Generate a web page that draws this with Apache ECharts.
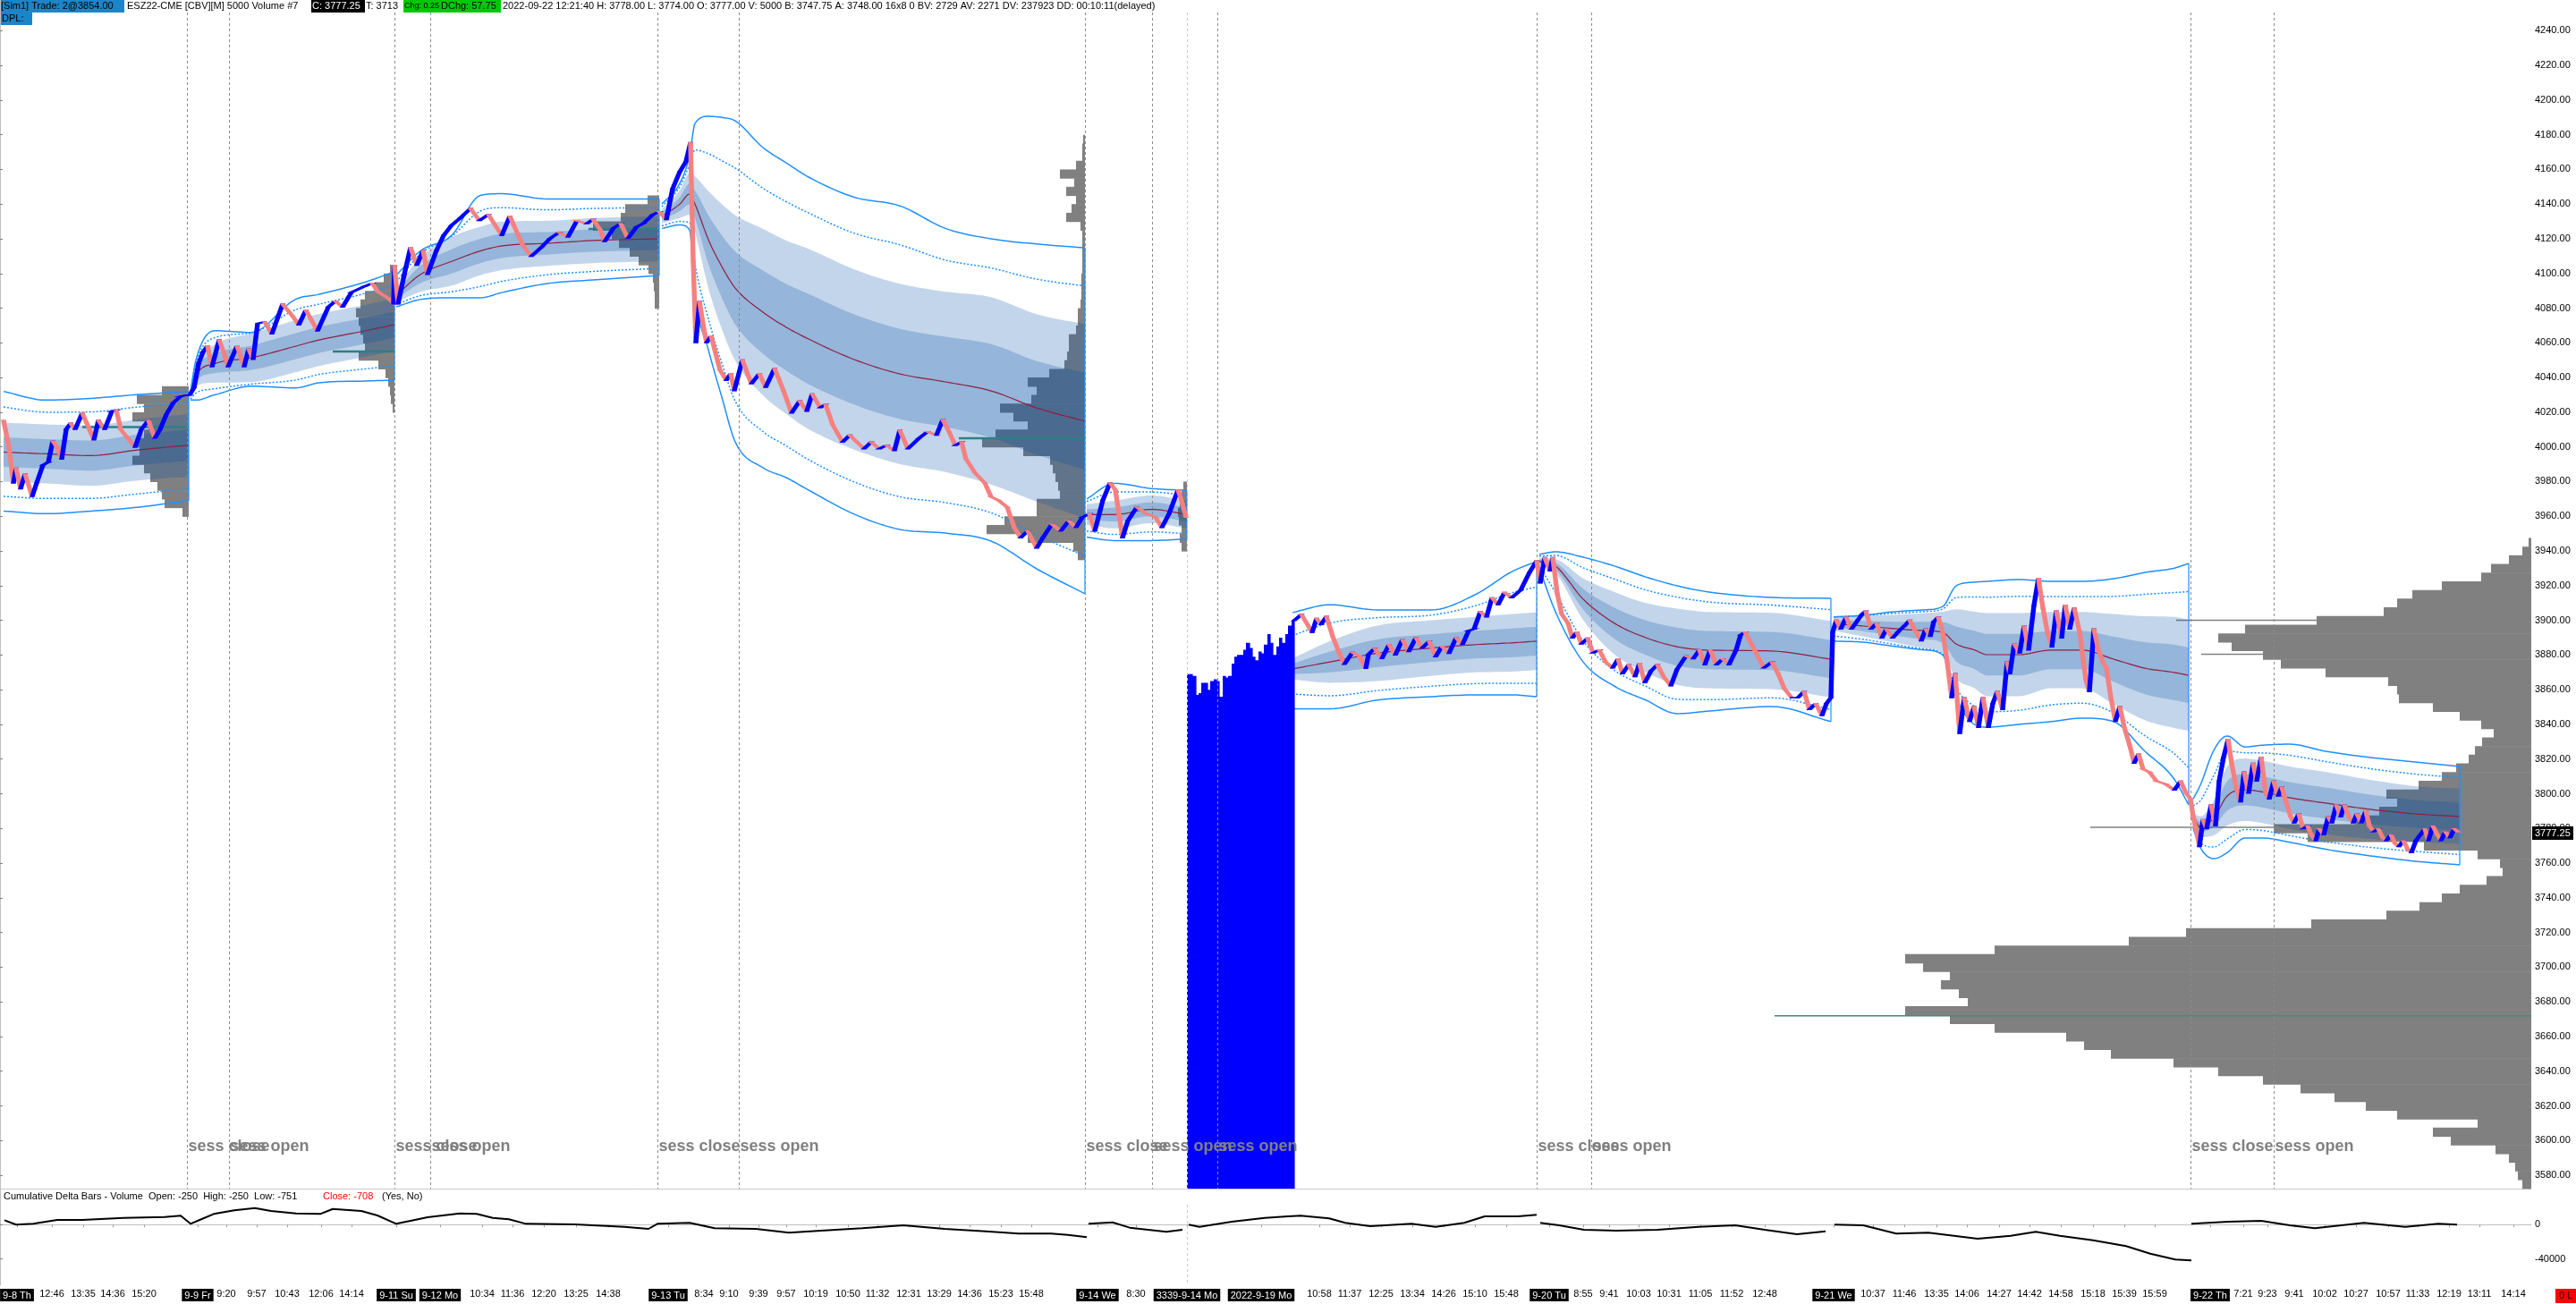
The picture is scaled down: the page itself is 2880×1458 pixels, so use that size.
<!DOCTYPE html>
<html>
<head>
<meta charset="utf-8">
<script src="https://cdn.jsdelivr.net/npm/echarts@6/dist/echarts.min.js"></script>
<style>
html,body{margin:0;padding:0;background:#fff}
#chart{width:2880px;height:1458px}
</style>
</head>
<body>
<div id="chart"></div>
<script>
// ---- price axis / panels
const Y_MIN = 3572.3, Y_MAX = 4257.7;
const yTicks = [3580,3600,3620,3640,3660,3680,3700,3720,3740,3760,3780,3800,3820,3840,3860,3880,3900,3920,3940,3960,3980,4000,4020,4040,4060,4080,4100,4120,4140,4160,4180,4200,4220,4240];
const cdTicks = [0, -40000];
const lastPrice = 3777.25;

// ---- time axis labels (bar position, text)
const xLabelPos = [19,58,93,126,161,221,253,287,321,359,393,443,492,539,573,608,644,680,747,787,815,848,879,912,948,981,1016,1050,1084,1119,1153,1227,1270,1327,1410,1475,1509,1544,1579,1614,1649,1684,1732,1770,1799,1832,1866,1901,1936,1973,2050,2094,2129,2165,2199,2235,2269,2304,2340,2375,2409,2471,2508,2535,2565,2599,2634,2670,2703,2738,2772,2810];
const xLabelText = ['9-8 Th','12:46','13:35','14:36','15:20','9-9 Fr','9:20','9:57','10:43','12:06','14:14','9-11 Su','9-12 Mo','10:34','11:36','12:20','13:25','14:38','9-13 Tu','8:34','9:10','9:39','9:57','10:19','10:50','11:32','12:31','13:29','14:36','15:23','15:48','9-14 We','8:30','3339-9-14 Mo','2022-9-19 Mo','10:58','11:37','12:25','13:34','14:26','15:10','15:48','9-20 Tu','8:55','9:41','10:03','10:31','11:05','11:52','12:48','9-21 We','10:37','11:46','13:35','14:06','14:27','14:42','14:58','15:18','15:39','15:59','9-22 Th','7:21','9:23','9:41','10:02','10:27','10:57','11:33','12:19','13:11','14:14'];

// ---- session boundaries
const sessClose = [209, 441, 735, 1213, 1718, 2449];
const sessOpen = [256, 481, 826, 1288, 1361, 1779, 2542];
const sessMark = [1327];

// ---- price path per session [bar, price]
const price1 = [[4,4015.3],[10,3999.8],[15,3979.2],[18,3987.8],[23,3975.8],[28,3984.4],[36,3971.5],[41,3979.2],[48,3989.5],[54,3991.2],[59,4003.3],[64,3999.8],[69,3993],[74,4010.1],[79,4013.6],[84,4010.1],[92,4019.6],[97,4013.6],[105,4004.1],[110,4015.3],[117,4010.1],[125,4020.5],[130,4021.3],[135,4010.1],[143,4005],[151,3999.8],[158,4010.1],[166,4015.3],[173,4005],[179,4010.1],[186,4018.7],[194,4025.6],[202,4029.1],[209,4029.9]];
const price2 = [[212,4029.9],[217,4034.2],[222,4048],[227,4054.8],[232,4058.3],[237,4046.2],[245,4061.7],[250,4054.8],[255,4046.2],[265,4058.3],[273,4046.2],[278,4056.6],[283,4050.5],[288,4071.2],[296,4072],[304,4065.2],[316,4082.4],[327,4075.5],[334,4070.3],[342,4078.9],[355,4066.9],[367,4080.6],[375,4084.1],[383,4080.6],[393,4089.2],[408,4092.7],[416,4094.4],[423,4089.2],[434,4085.8],[440,4082.4]];
const price3 = [[441,4104.7],[445,4082.4],[452,4099.5],[459,4115],[466,4104.7],[473,4113.3],[478,4099.5],[488,4113.3],[496,4121.9],[505,4127.9],[515,4132.2],[526,4137.4],[536,4130.5],[546,4133.9],[561,4121.9],[570,4133.1],[584,4116.7],[594,4109.9],[605,4115],[615,4120.2],[625,4123.6],[635,4121],[645,4130.5],[656,4128.8],[663,4131.3],[671,4125.3],[676,4118.4],[686,4126.2],[694,4128.8],[702,4120.2],[712,4127],[719,4128.8],[730,4133.9],[737,4135.6]];
const price4 = [[745,4131.1],[752,4148.9],[760,4158.7],[767,4164.7],[772,4175.5],[775,4107.4],[778,4060.1],[782,4083.8],[787,4068],[790,4060.1],[795,4064],[805,4044.3],[812,4038.4],[817,4042.3],[821,4032.4],[830,4050.2],[840,4036.4],[849,4042.3],[856,4034.4],[866,4045.3],[876,4032.4],[885,4019.6],[894,4026.5],[902,4020.6],[908,4030.5],[917,4022.6],[923,4024.5],[931,4012.7],[942,4002.8],[950,4006.8],[958,4002.8],[966,3998.9],[974,4002.8],[983,3998.9],[991,4000.9],[1000,3997.9],[1006,4009.7],[1015,3998.9],[1027,4004.8],[1037,4008.8],[1047,4006.8],[1054,4015.7],[1061,4008.8],[1068,4000.9],[1075,4002.8],[1080,3993],[1090,3985.1],[1101,3979.2],[1108,3971.3],[1116,3969.3],[1126,3965.3],[1134,3953.5],[1141,3947.6],[1149,3951.5],[1159,3941.7],[1166,3947.6],[1176,3955.5],[1186,3951.5],[1195,3957.4],[1203,3953.5],[1210,3959.4]];
const price5 = [[1218,3961.4],[1224,3951.5],[1233,3969.3],[1241,3979.2],[1247,3975.2],[1255,3947.6],[1261,3957.4],[1271,3965.3],[1282,3961.4],[1292,3959.4],[1299,3953.5],[1307,3961.4],[1317,3975.2],[1322,3967.3],[1326,3959.4]];
const price6 = [[1447,3899.9],[1455,3903.4],[1467,3893],[1472,3901.1],[1477,3897.6],[1483,3902.2],[1490,3890.7],[1497,3881.5],[1503,3874.6],[1512,3881.5],[1520,3879.2],[1527,3872.3],[1530,3880.4],[1537,3883.8],[1545,3878],[1553,3886],[1560,3880],[1568,3889],[1575,3882],[1583,3890],[1590,3884],[1598,3888],[1605,3879],[1612,3885],[1620,3881],[1628,3890],[1635,3886],[1642,3894],[1648,3895],[1655,3905],[1662,3902],[1668,3913],[1675,3909],[1682,3916],[1690,3913],[1700,3917.3],[1710,3927.6],[1718,3934.4]];
const price7 = [[1722,3921.6],[1727,3936.2],[1733,3928.5],[1736,3936.2],[1741,3915.6],[1746,3903.6],[1753,3898.4],[1758,3889.8],[1763,3893.3],[1768,3886.4],[1775,3889.8],[1781,3881.2],[1788,3882.9],[1795,3876],[1803,3872.6],[1809,3877.8],[1814,3869.2],[1821,3874.4],[1828,3867.5],[1833,3875.2],[1839,3864],[1846,3870.9],[1853,3874.4],[1860,3867.5],[1868,3862.3],[1875,3871.8],[1885,3879.5],[1893,3877.8],[1900,3882.9],[1906,3874.4],[1912,3882.9],[1919,3874.4],[1926,3877.8],[1933,3874.4],[1941,3882.9],[1946,3891.5],[1951,3893.3],[1958,3886.4],[1965,3879.5],[1972,3872.6],[1981,3876],[1988,3869.2],[1995,3860.6],[2003,3855.4],[2010,3855.4],[2017,3858.9],[2023,3848.6],[2030,3852],[2037,3845.1],[2042,3852],[2047,3855.4]];
const price8 = [[2049,3893.3],[2053,3900.1],[2058,3895],[2064,3901.9],[2070,3895],[2077,3900.1],[2082,3903.6],[2086,3905.3],[2092,3895],[2098,3898.4],[2104,3889.8],[2109,3895],[2116,3889.8],[2122,3893.3],[2129,3896.7],[2135,3900.1],[2142,3893.3],[2148,3888.1],[2153,3895],[2158,3890.7],[2162,3899.3],[2167,3901.9],[2172,3893.3],[2177,3876],[2182,3855.4],[2186,3869.2],[2191,3834.8],[2196,3855.4],[2202,3841.7],[2207,3850.3],[2212,3838.3],[2217,3855.4],[2223,3838.3],[2228,3852],[2233,3858.9],[2239,3848.6],[2244,3876],[2247,3869.2],[2252,3886.4],[2258,3881.2],[2263,3896.7],[2268,3882.9],[2274,3908.7],[2279,3924.2],[2284,3907],[2289,3893.3],[2294,3884.7],[2299,3905.3],[2305,3889.8],[2309,3908.7],[2314,3895],[2319,3907],[2325,3893.3],[2332,3865.7],[2336,3858.9],[2341,3895],[2346,3882.9],[2351,3876],[2355,3872.6],[2360,3855.4],[2365,3841.7],[2370,3850.3],[2375,3838.3],[2381,3828],[2386,3817.6],[2391,3822.8],[2396,3814.2],[2403,3812.5],[2411,3807.3],[2421,3805.6],[2431,3802.2],[2438,3807.3],[2444,3800.4],[2449,3797]];
const price9 = [[2452,3786.7],[2456,3778.1],[2459,3769.5],[2463,3785],[2467,3779.8],[2472,3793.6],[2477,3781.5],[2481,3807.3],[2486,3821],[2491,3831.4],[2495,3817.6],[2500,3803.9],[2505,3795.3],[2509,3812.5],[2514,3800.4],[2519,3817.6],[2523,3807.3],[2528,3821],[2533,3800.4],[2537,3797],[2542,3807.3],[2547,3798.7],[2551,3803.9],[2556,3795.3],[2561,3786.7],[2565,3783.2],[2570,3788.4],[2575,3779.8],[2580,3781.5],[2584,3776.4],[2589,3772.9],[2593,3779.8],[2598,3776.4],[2603,3786.7],[2607,3783.2],[2612,3793.6],[2617,3786.7],[2621,3793.6],[2626,3786.7],[2631,3783.2],[2635,3788.4],[2640,3783.2],[2645,3790.1],[2649,3781.5],[2654,3778.1],[2659,3779.8],[2664,3774.6],[2668,3772.9],[2673,3776.4],[2678,3771.2],[2682,3769.5],[2687,3772.9],[2692,3767.8],[2696,3766.1],[2701,3772.9],[2706,3776.4],[2711,3779.8],[2715,3772.9],[2720,3781.5],[2725,3776.4],[2729,3772.9],[2734,3778.1],[2739,3774.6],[2744,3779.8],[2748,3778.1]];

// bad-tick bars of 9-19 (high, low printed at 3339)
const glitchX = [1327,1330,1333,1337,1340,1343,1347,1350,1353,1357,1360,1363,1367,1370,1373,1377,1380,1383,1387,1390,1393,1397,1400,1403,1407,1410,1413,1417,1420,1423,1427,1430,1433,1437,1440,1444];
const glitchHigh = [3869,3869,3868,3857,3858,3864,3864,3860,3865,3866,3865,3856,3868,3867,3868,3875,3879,3880,3880,3883,3887,3884,3879,3877,3882,3881,3886,3892,3887,3880,3885,3890,3887,3892,3897,3900];
const glitchLow = 3339;

// ---- session bands: knots, center, std dev, outer upper, outer lower
const bandX = [
  [4,51,102,150,211],
  [213,219,240,281,330,357,408,441],
  [443,470,505,537,561,612,663,737],
  [740,760,771,777,792,807,822,853,879,904,955,1006,1057,1108,1159,1213],
  [1215,1246,1287,1327],
  [1445,1487,1540,1600,1650,1690,1718],
  [1721,1739,1770,1805,1840,1875,1911,1981,2047],
  [2050,2083,2118,2150,2172,2187,2207,2222,2257,2293,2328,2363,2398,2430,2447],
  [2452,2460,2475,2490,2510,2530,2560,2600,2650,2700,2750]
];
const bandMid = [
  [3997,3996,3995,3998,4001],
  [4030,4041,4048,4051.4,4058,4061.7,4066.9,4070.5],
  [4087.5,4099.4,4107,4113,4115.9,4117.4,4119,4120],
  [4133,4140,4145.8,4140,4119.5,4104,4091.6,4077.7,4069,4062.2,4050.4,4042.1,4037.5,4032.3,4022.5,4014.8],
  [3961,3961,3964,3961],
  [3872,3876,3881,3884,3886,3887,3888],
  [3934,3931.3,3912.2,3898.3,3890,3884.8,3882.8,3882.3,3877.6],
  [3898,3896.7,3895.2,3894.1,3893,3886.4,3883,3880.2,3880.2,3882.8,3882.8,3877.6,3872.4,3870,3868.3],
  [3787,3781,3786,3798.7,3802.3,3801,3797.7,3794.6,3791,3788.4,3786.9]
];
const bandSd = [
  [8.5,8.5,8.7,8.8,9],
  [1,3,5.5,7,7.5,7.5,7.5,7.5],
  [2,5,7,7,7,6.5,6.5,6.5],
  [2,4,6,8,14,18,21,24,25,26,26,26,26,27,27,28],
  [3,4,4,4],
  [3,6,8,8,8,8.3,8.3],
  [1,2,6,9,10,11,11,11,11],
  [2,3,4,5,6,10,11,12,12,11,11,13,15,16,16],
  [1,3,5,8.5,9,9,9,9,8.5,8,8]
];
const bandUp = [
  [4032,4027,4028,4030,4032],
  [4032,4050,4067,4066,4085,4088,4095,4101],
  [4099,4113,4122,4145,4146,4143,4143,4143],
  [4140,4152,4168,4186.5,4190.6,4190,4188,4172.6,4163.8,4155.6,4144,4139,4126,4120,4117,4114.8],
  [3970,3979,3976,3975],
  [3904.5,3909,3906,3906,3915,3928,3934],
  [3938,3939.5,3936.4,3931.3,3925,3919.9,3916.3,3913.2,3912.7],
  [3901.9,3902.9,3905,3906,3908,3919.9,3922,3922.5,3923.5,3922.5,3922.5,3924,3927.6,3930,3932.8],
  [3797,3805,3825,3833.3,3827,3828,3828.6,3824.5,3820.9,3818.3,3815.7]
];
const bandDn = [
  [3963,3961.5,3963,3965,3969],
  [4027,4027,4030,4035,4034,4037,4038,4038.5],
  [4080.8,4085,4086,4086,4089,4094.2,4096.3,4098.9],
  [4126,4128,4125,4087.5,4056,4028.7,4002.9,3988,3982.3,3975.1,3961.2,3952.4,3950.3,3945.7,3929.7,3915.3],
  [3948,3946,3946,3947],
  [3849,3849,3854,3856,3857,3857,3856],
  [3930,3905,3876,3862,3854,3846.2,3847.7,3850.3,3841.6],
  [3888,3887.4,3885,3883,3880,3855.5,3840.1,3838.4,3840,3841.6,3843.6,3841.6,3824.5,3809,3793.6],
  [3780,3769,3762.6,3766,3774.5,3774.5,3772,3768,3764.2,3761.1,3759]
];

// ---- volume profiles (anchored at right edge, bins of 5 points)
const profAnchor = [211, 441, 737, 1213, 1327, 2830];
const profBase = [3962.5, 4022.5, 4082.5, 3937.5, 3942.5, 3575];
const profStep = 5;
const profLens = [
  [7,27,30,35,43,50,63,55,58,50,45,63,50,58,30],
  [2,4,5,7,10,18,40,33,35,38,40,43,38,33,22,12,5],
  [5,5,6,7,12,23,33,45,53,74,43,38,13],
  [8,13,64,110,90,54,54,28,30,33,36,39,69,115,100,64,80,95,60,54,64,40,23,20,18,18,10,8,8,5,4,4,4,3,3,3,3,3,5,21,15,10,21,12,28,10,3,3,2],
  [6,8,6,9,10,8,6,4],
  [10,15,18,25,40,90,110,60,150,185,220,258,300,350,400,470,500,520,600,650,700,630,640,660,650,680,700,600,450,386,246,162,125,100,80,50,32,35,60,120,250,288,197,170,150,162,126,100,84,70,63,55,42,56,80,110,148,150,160,230,280,300,335,350,320,240,165,150,133,100,56,45,25,10,3]
];
const spikePrice = [3780.6, 3900, 3880.4];
const spikeLen = [493, 397, 369];
const pocAnchor = [211, 441, 737, 1213, 2830];
const pocPrice = [4011.4, 4055, 4125.7, 4005, 3672];
const pocLen = [119, 69, 79, 141, 846];

// ---- cumulative delta per session
const cdA = [[5,5200],[18,0],[37,1000],[64,5500],[92,5500],[138,7900],[184,9000],[202,10400],[213,1000],[225,6300],[239,12500],[262,16700],[285,19400],[303,15900],[331,13100],[358,12500],[372,18300],[404,15900],[422,10700],[443,1000],[459,4500],[478,8600],[514,13100],[533,12500],[551,7900],[569,6300],[588,1000],[643,300],[698,-2500],[725,-4900],[735,1000],[771,2100],[799,-4200],[845,-4900],[882,-9400],[918,-7000],[964,-4200],[1010,-700],[1056,-4900],[1102,-7700],[1139,-10400],[1175,-10400],[1194,-11900],[1215,-14600]];
const cdB = [[1217,1000],[1244,2700],[1263,-3500],[1304,-8300],[1322,-5900]];
const cdC = [[1329,0],[1341,-2500],[1377,3400],[1414,7900],[1440,9700],[1454,10400],[1486,7300],[1504,2100],[1532,-1800],[1578,1000],[1605,-2500],[1637,2100],[1660,9700],[1697,9700],[1718,11500]];
const cdD = [[1722,2100],[1743,-700],[1771,-5900],[1807,-7000],[1853,-5900],[1899,-2500],[1940,-700],[1973,-5900],[2009,-11100],[2041,-7700]];
const cdE = [[2051,0],[2083,-700],[2120,-10400],[2156,-9400],[2211,-16400],[2248,-12900],[2276,-8300],[2303,-12900],[2340,-18100],[2377,-25000],[2404,-33800],[2432,-40600],[2450,-41700]];
const cdF = [[2450,1000],[2491,3400],[2528,4500],[2560,-700],[2588,-4200],[2643,2100],[2689,-2500],[2726,1000],[2747,0]];

// ------------------------------------------------------------------
const FONT = "'Liberation Sans', Arial, sans-serif";
const F11 = "11px " + FONT;
const BLUE = '#1e8fff';
const BAND_FILL = 'rgba(0,76,166,0.235)';
const chart = echarts.init(document.getElementById('chart'));

// monotone cubic curve through pixel knots (drawing only)
function curve(pts, steps) {
  const n = pts.length;
  if (n < 3) return pts.slice();
  const dx = [], m = [];
  for (let i = 0; i < n - 1; i++) {
    dx[i] = pts[i + 1][0] - pts[i][0];
    m[i] = dx[i] ? (pts[i + 1][1] - pts[i][1]) / dx[i] : 0;
  }
  const t = [m[0]];
  for (let i = 1; i < n - 1; i++) t[i] = m[i - 1] * m[i] <= 0 ? 0 : (m[i - 1] + m[i]) / 2;
  t[n - 1] = m[n - 2];
  for (let i = 0; i < n - 1; i++) {
    if (m[i] === 0) { t[i] = 0; t[i + 1] = 0; continue; }
    const a = t[i] / m[i], b = t[i + 1] / m[i], s = a * a + b * b;
    if (s > 9) { const k = 3 / Math.sqrt(s); t[i] = k * a * m[i]; t[i + 1] = k * b * m[i]; }
  }
  const out = [];
  for (let i = 0; i < n - 1; i++) {
    const h = dx[i];
    for (let s = 0; s < steps; s++) {
      const u = s / steps, u2 = u * u, u3 = u2 * u;
      out.push([pts[i][0] + u * h,
        (2 * u3 - 3 * u2 + 1) * pts[i][1] + (u3 - 2 * u2 + u) * h * t[i] + (-2 * u3 + 3 * u2) * pts[i + 1][1] + (u3 - u2) * h * t[i + 1]]);
    }
  }
  out.push(pts[n - 1]);
  return out;
}

const series = [];

// profiles
const profData = [];
profAnchor.forEach((a, i) => profLens[i].forEach((len, j) => profData.push([a, profBase[i] + j * profStep, len])));
series.push({
  type: 'custom', xAxisIndex: 0, yAxisIndex: 0, z: 1, silent: true, data: profData,
  renderItem: (params, api) => {
    const a = api.value(0), p = api.value(1), len = api.value(2);
    const p1 = api.coord([a - len, p + profStep / 2]);
    const p2 = api.coord([a, p - profStep / 2]);
    return {type: 'rect', shape: {x: p1[0], y: p1[1], width: p2[0] - p1[0], height: p2[1] - p1[1] + 0.6}, style: {fill: '#808080'}};
  }
});
series.push({
  type: 'custom', xAxisIndex: 0, yAxisIndex: 0, z: 1, silent: true,
  data: spikePrice.map((p, i) => [2830, p, spikeLen[i]]),
  renderItem: (params, api) => {
    const a = api.coord([api.value(0) - api.value(2), api.value(1)]);
    const b = api.coord([api.value(0), api.value(1)]);
    return {type: 'line', shape: {x1: a[0], y1: a[1], x2: b[0], y2: b[1]}, style: {stroke: '#808080', lineWidth: 1.5}};
  }
});

// bands: filled ±1sd / ±2sd, center, dotted and solid envelopes
series.push({
  type: 'custom', xAxisIndex: 0, yAxisIndex: 0, z: 2, silent: true,
  data: bandX.map((xs, i) => [xs[0], bandMid[i][0], i]),
  renderItem: (params, api) => {
    const i = api.value(2);
    const xs = bandX[i], mid = bandMid[i], sd = bandSd[i], up = bandUp[i], dn = bandDn[i];
    const line = f => curve(xs.map((x, k) => api.coord([x, f(k)])), 10);
    const hi2 = line(k => mid[k] + 2 * sd[k]), lo2 = line(k => mid[k] - 2 * sd[k]);
    const hi1 = line(k => mid[k] + sd[k]), lo1 = line(k => mid[k] - sd[k]);
    const upL = line(k => up[k]), dnL = line(k => dn[k]);
    const upD = line(k => (mid[k] + 2 * sd[k] + up[k]) / 2), dnD = line(k => (mid[k] - 2 * sd[k] + dn[k]) / 2);
    const ctr = line(k => mid[k]);
    const e = xs.length - 1;
    const endUp = api.coord([xs[e], up[e]]), endDn = api.coord([xs[e], dn[e]]);
    return {type: 'group', children: [
      {type: 'polygon', shape: {points: hi2.concat(lo2.slice().reverse())}, style: {fill: BAND_FILL}},
      {type: 'polygon', shape: {points: hi1.concat(lo1.slice().reverse())}, style: {fill: BAND_FILL}},
      {type: 'polyline', shape: {points: ctr}, style: {stroke: '#8e1f42', lineWidth: 1.2, fill: null}},
      {type: 'polyline', shape: {points: upD}, style: {stroke: BLUE, lineWidth: 1.5, lineDash: [2, 2], fill: null}},
      {type: 'polyline', shape: {points: dnD}, style: {stroke: BLUE, lineWidth: 1.5, lineDash: [2, 2], fill: null}},
      {type: 'polyline', shape: {points: upL}, style: {stroke: BLUE, lineWidth: 1.5, fill: null}},
      {type: 'polyline', shape: {points: dnL}, style: {stroke: BLUE, lineWidth: 1.5, fill: null}},
      {type: 'line', shape: {x1: endUp[0], y1: endUp[1], x2: endDn[0], y2: endDn[1]}, style: {stroke: BLUE, lineWidth: 1.2}}
    ]};
  }
});

// POC lines
series.push({
  type: 'custom', xAxisIndex: 0, yAxisIndex: 0, z: 3, silent: true,
  data: pocPrice.map((p, i) => [pocAnchor[i], p, pocLen[i]]),
  renderItem: (params, api) => {
    const a = api.coord([api.value(0) - api.value(2), api.value(1)]);
    const b = api.coord([api.value(0), api.value(1)]);
    const big = api.value(0) > 2800;
    return {type: 'line', shape: {x1: a[0], y1: a[1], x2: b[0], y2: b[1]}, style: {stroke: big ? '#3a9078' : '#2e7f86', lineWidth: big ? 1.6 : 2.5}};
  }
});

// bad-tick block
series.push({
  type: 'custom', xAxisIndex: 0, yAxisIndex: 0, z: 4, silent: true,
  data: glitchX.map((x, i) => [x, glitchHigh[i], i < glitchX.length - 1 ? glitchX[i + 1] : x + 3]),
  renderItem: (params, api) => {
    const a = api.coord([api.value(0), api.value(1)]);
    const b = api.coord([api.value(2), glitchLow]);
    const cs = params.coordSys;
    const bottom = Math.min(b[1], cs.y + cs.height);
    return {type: 'rect', shape: {x: a[0], y: a[1], width: b[0] - a[0] + 0.6, height: bottom - a[1]}, style: {fill: '#0000ff'}};
  }
});

// session lines + labels
const sessData = sessClose.map(x => [x, 0]).concat(sessOpen.map(x => [x, 1])).concat(sessMark.map(x => [x, 2]));
series.push({
  type: 'custom', xAxisIndex: 0, yAxisIndex: 0, z: 6, silent: true, data: sessData,
  renderItem: (params, api) => {
    const kind = api.value(1);
    const cs = params.coordSys;
    const px = Math.round(api.coord([api.value(0), Y_MIN])[0]) + 0.5;
    const top = cs.y + 14, bot = cs.y + cs.height;
    const children = [{type: 'line', shape: {x1: px, y1: top, x2: px, y2: bot}, style: {stroke: kind === 2 ? '#c8c8c8' : '#8a8a8a', lineWidth: 1, lineDash: [3, 3]}}];
    if (kind < 2) {
      children.push({type: 'text', x: px + 1, y: bot - 47, style: {text: kind === 0 ? 'sess close' : 'sess open', font: "bold 18px " + FONT, fill: '#808080', verticalAlign: 'middle', align: 'left'}});
    }
    return {type: 'group', children};
  }
});

// price bars
const segs = [];
[[price1, price2, price3, price4, price5], [price6, price7, price8, price9]].forEach(group => {
  const path = [].concat(...group);
  for (let k = 1; k < path.length; k++) segs.push([path[k - 1][0], path[k - 1][1], path[k][0], path[k][1]]);
});
series.push({
  type: 'custom', xAxisIndex: 0, yAxisIndex: 0, z: 7, silent: true, data: segs,
  renderItem: (params, api) => {
    const a = api.coord([api.value(0), api.value(1)]);
    const b = api.coord([api.value(2), api.value(3)]);
    const c = api.value(3) >= api.value(1) ? '#0000ff' : '#f58080';
    const w = 2;
    return {type: 'polygon', shape: {points: [[a[0] - w, a[1]], [a[0] + w, a[1]], [b[0] + w, b[1]], [b[0] - w, b[1]]]}, style: {fill: c, stroke: c, lineWidth: 1.4}};
  }
});

// cumulative delta panel
[cdA, cdB, cdC, cdD, cdE, cdF].forEach(d => series.push({
  type: 'line', xAxisIndex: 1, yAxisIndex: 1, data: d, symbol: 'none', silent: true,
  lineStyle: {color: '#000', width: 2}
}));
series.push({
  type: 'custom', xAxisIndex: 1, yAxisIndex: 1, silent: true, data: sessMark.map(x => [x, 0]),
  renderItem: (params, api) => {
    const cs = params.coordSys;
    const px = Math.round(api.coord([api.value(0), 0])[0]) + 0.5;
    return {type: 'line', shape: {x1: px, y1: cs.y + 17, x2: px, y2: cs.y + cs.height}, style: {stroke: '#c8c8c8', lineWidth: 1, lineDash: [3, 3]}};
  }
});

const xLabelMap = {};
xLabelPos.forEach((p, i) => { xLabelMap[p] = xLabelText[i]; });

// fit header text pieces to their slot widths
const measureCtx = document.createElement('canvas').getContext('2d');
function fitFont(text, width) {
  measureCtx.font = '11px ' + FONT;
  const w = measureCtx.measureText(text).width;
  const size = Math.min(11, 11 * width / w);
  return size.toFixed(2) + 'px ' + FONT;
}
const headerParts = [
  {x: 0, w: 139, text: '[Sim1] Trade: 2@3854.00', bg: '#1b85c8', fg: '#000'},
  {x: 141, w: 207, text: 'ESZ22-CME [CBV][M] 5000 Volume #7', fg: '#000'},
  {x: 348, w: 60, text: 'C: 3777.25', bg: '#000', fg: '#fff'},
  {x: 408, w: 43, text: 'T: 3713', fg: '#000'},
  {x: 451, w: 41, text: 'Chg: 0.25', bg: '#00c800', fg: '#000'},
  {x: 492, w: 68, text: 'DChg: 57.75', bg: '#00c800', fg: '#000'},
  {x: 561, w: 732, text: '2022-09-22 12:21:40 H: 3778.00 L: 3774.00 O: 3777.00 V: 5000 B: 3747.75 A: 3748.00 16x8 0 BV: 2729 AV: 2271 DV: 237923 DD: 00:10:11(delayed)', fg: '#000'}
];
const header = [];
headerParts.forEach(p => {
  if (p.bg) header.push({type: 'rect', shape: {x: p.x, y: 0, width: p.w, height: 14}, style: {fill: p.bg}});
  header.push({type: 'text', x: p.x + 1, y: 7, style: {text: p.text, font: fitFont(p.text, p.w - 2), fill: p.fg, verticalAlign: 'middle'}});
});
header.push(
  {type: 'rect', shape: {x: 0, y: 14, width: 36, height: 14}, style: {fill: '#1b85c8'}},
  {type: 'text', x: 2, y: 21, style: {text: 'DPL:', font: F11, fill: '#000', verticalAlign: 'middle'}},
  {type: 'line', shape: {x1: 0, y1: 1329.5, x2: 2830, y2: 1329.5}, style: {stroke: '#c8c8c8', lineWidth: 1}},
  {type: 'line', shape: {x1: 0.5, y1: 0, x2: 0.5, y2: 1437}, style: {stroke: '#d0d0d0', lineWidth: 1}},
  {type: 'text', x: 4, y: 1338, style: {text: 'Cumulative Delta Bars - Volume  Open: -250  High: -250  Low: -751', font: fitFont('Cumulative Delta Bars - Volume  Open: -250  High: -250  Low: -751', 352), fill: '#000', verticalAlign: 'middle'}},
  {type: 'text', x: 361, y: 1338, style: {text: 'Close: -708', font: fitFont('Close: -708', 58), fill: '#ff0000', verticalAlign: 'middle'}},
  {type: 'text', x: 427, y: 1338, style: {text: '(Yes, No)', font: fitFont('(Yes, No)', 48), fill: '#000', verticalAlign: 'middle'}},
  {type: 'rect', shape: {x: 2857, y: 1441, width: 23, height: 16}, style: {fill: '#ff0000'}},
  {type: 'text', x: 2861, y: 1449, style: {text: '0 L', font: F11, fill: '#300', verticalAlign: 'middle'}}
);

const axisLabelBase = {color: '#000', fontSize: 11, fontFamily: FONT};

const option = {
  animation: false,
  backgroundColor: '#ffffff',
  grid: [
    {left: 0, right: 50, top: 0, height: 1329, outerBoundsMode: 'none'},
    {left: 0, right: 50, top: 1330, height: 107, outerBoundsMode: 'none'}
  ],
  xAxis: [
    {gridIndex: 0, type: 'value', min: 0, max: 2830, show: false},
    {gridIndex: 1, type: 'value', min: 0, max: 2830,
      axisLine: {show: true, lineStyle: {color: '#c0c0c0'}},
      axisTick: {show: true, customValues: xLabelPos, length: 3, lineStyle: {color: '#a0a0a0'}},
      axisLabel: Object.assign({}, axisLabelBase, {
        customValues: xLabelPos, margin: 4, hideOverlap: false,
        formatter: v => { const t = xLabelMap[v] || ''; return t.indexOf('-') >= 0 ? '{d|' + t + '}' : '{t|' + t + '}'; },
        rich: {d: {backgroundColor: '#000', color: '#fff', fontSize: 11, fontFamily: FONT, padding: [2, 3, 1, 3]}, t: {color: '#000', fontSize: 11, fontFamily: FONT}}
      }),
      splitLine: {show: false}}
  ],
  yAxis: [
    {gridIndex: 0, type: 'value', position: 'right', min: Y_MIN, max: Y_MAX,
      axisLine: {show: true, lineStyle: {color: '#c0c0c0'}},
      axisTick: {show: true, customValues: yTicks, length: 3, lineStyle: {color: '#808080'}},
      axisLabel: Object.assign({}, axisLabelBase, {customValues: yTicks, margin: 4, formatter: v => Number(v).toFixed(2)}),
      splitLine: {show: false}},
    {gridIndex: 1, type: 'value', position: 'right', min: -70540, max: 40950,
      axisLine: {show: true, lineStyle: {color: '#c0c0c0'}},
      axisTick: {show: true, customValues: cdTicks, length: 3, lineStyle: {color: '#808080'}},
      axisLabel: Object.assign({}, axisLabelBase, {customValues: cdTicks, margin: 4, formatter: v => String(v)}),
      splitLine: {show: false}}
  ],
  graphic: header,
  series
};

chart.setOption(option);

// last price tag on the price scale
const tagY = Math.round(chart.convertToPixel({yAxisIndex: 0}, lastPrice));
chart.setOption({
  graphic: header.concat([
    {type: 'rect', z: 100, shape: {x: 2831, y: tagY - 8, width: 46, height: 15}, style: {fill: '#000'}},
    {type: 'text', z: 101, x: 2834, y: tagY, style: {text: lastPrice.toFixed(2), font: F11, fill: '#fff', verticalAlign: 'middle'}}
  ])
});
</script>
</body>
</html>
